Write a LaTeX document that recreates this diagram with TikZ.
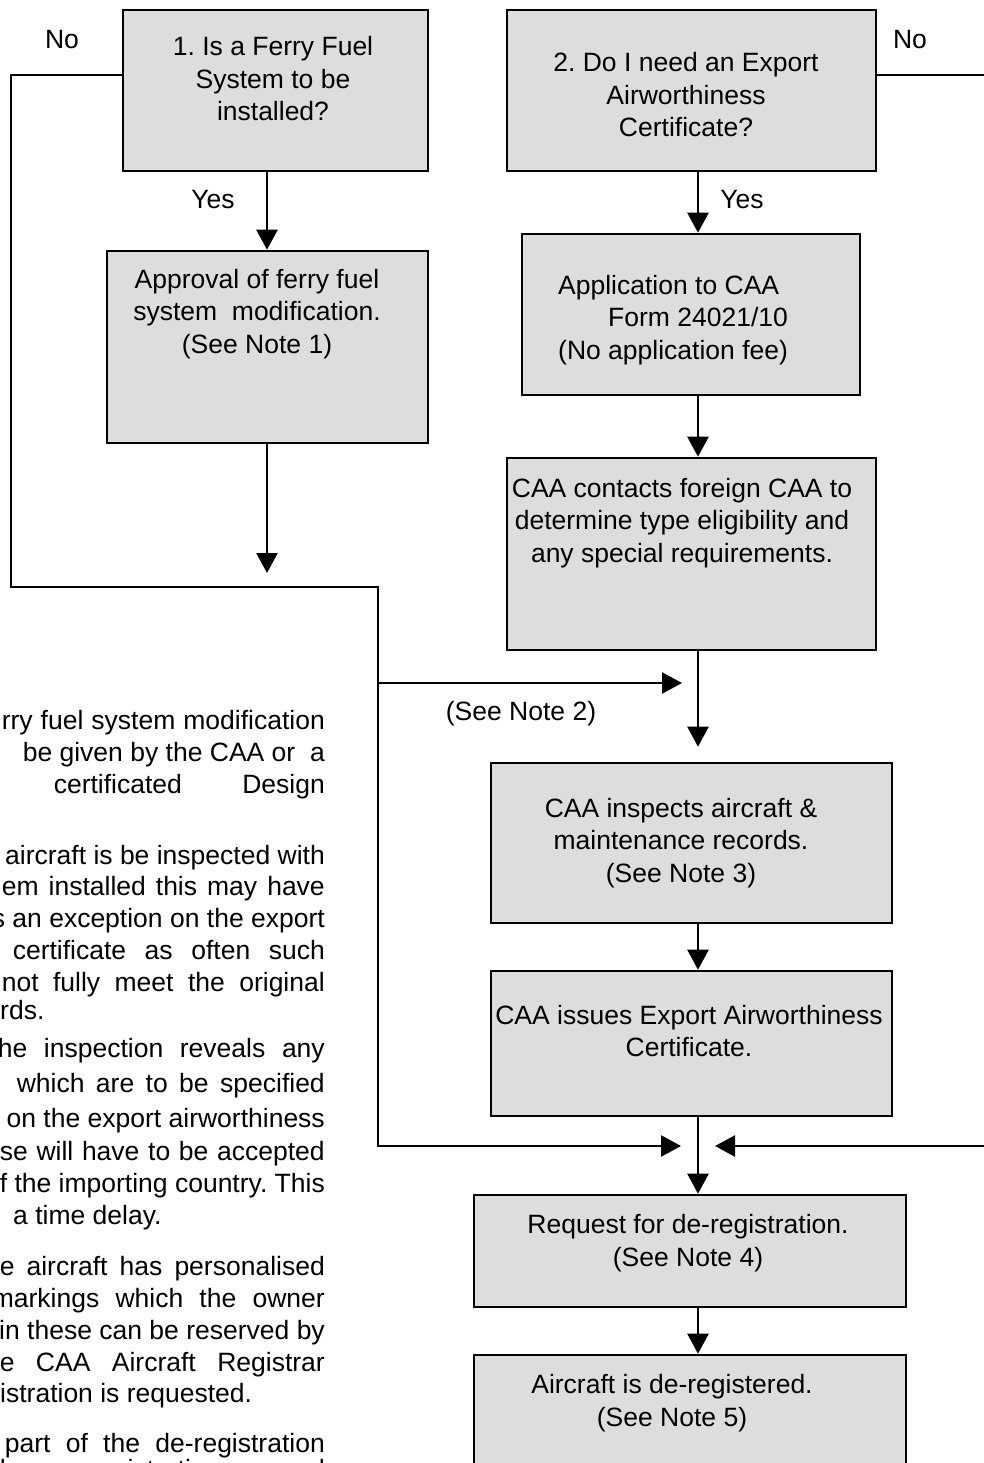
\documentclass[tikz,border=0pt]{standalone}
\usepackage{fontspec}
\setmainfont{Liberation Sans}
\usetikzlibrary{positioning,arrows.meta}
\definecolor{boxgray}{HTML}{DDDDDD}
\frenchspacing

\begin{document}
\begin{tikzpicture}[x=1pt, y=-1pt,
    font=\fontsize{26.5}{32.5}\selectfont,
    box/.style={draw, line width=2.6pt, fill=boxgray},
    txt/.style={inner sep=0pt, align=center},
    note/.style={inner sep=0pt, text height=0.72em, text depth=0.2em},
    line/.style={line width=2.6pt},
    arr/.style={line width=2.6pt, -{Triangle[width=21pt, length=20pt]}}]
    \useasboundingbox (0,0) rectangle (984,1463);

    % Boxes
    \node[box, minimum width=305pt, minimum height=161pt] (q1) at (275.5,90.5) {};
    \node[box, minimum width=369pt, minimum height=161pt] (q2) at (691.5,90.5) {};
    \node[box, minimum width=321pt, minimum height=192pt] (a1) at (267.5,347) {};
    \node[box, minimum width=338pt, minimum height=161pt] (app) at (691,314.5) {};
    \node[box, minimum width=369pt, minimum height=192pt] (con) at (691.5,554) {};
    \node[box, minimum width=401pt, minimum height=160pt] (insp) at (691.5,843) {};
    \node[box, minimum width=401pt, minimum height=145pt] (iss) at (691.5,1043.5) {};
    \node[box, minimum width=432pt, minimum height=112pt] (req) at (690,1251) {};
    \node[box, minimum width=432pt, minimum height=160pt] (dreg) at (690,1435) {};

    % Box texts
    \node[txt] (q1t) at (273,79) {1. Is a Ferry Fuel\\System to be\\installed?};
    \node[txt] (q2t) at (686,95) {2. Do I need an Export\\Airworthiness\\Certificate?};
    \node[txt] (a1t) at (257,314) {Approval of ferry fuel\\system~ modification.\\(See Note 1)};
    \node[txt, align=left, anchor=west] (appt) at (558,320) {Application to CAA\\\hspace*{50pt}Form 24021/10\\(No application fee)};
    \node[txt] (cont) at (682,523) {CAA contacts foreign CAA to\\determine type eligibility and\\any special requirements.};
    \node[txt] (inspt) at (681,843) {CAA inspects aircraft \&\\maintenance records.\\(See Note 3)};
    \node[txt] (isst) at (689,1031) {CAA issues Export Airworthiness\\Certificate.};
    \node[txt] (reqt) at (688,1243) {Request for de-registration.\\(See Note 4)};
    \node[txt] (dregt) at (672,1403) {Aircraft is de-registered.\\(See Note 5)};

    % Labels
    \node[txt] (no1) at (62,40) {No};
    \node[txt] (no2) at (910,40) {No};
    \node[txt] (yes1) at (213,200) {Yes};
    \node[txt] (yes2) at (742,200) {Yes};
    \node[txt] (see2) at (521,714) {(See Note 2)};

    % Connectors
    \coordinate (lc) at (267,0);
    \coordinate (rc) at (698,0);
    \coordinate (nol) at (11,75);
    \coordinate (nor) at (990,75);
    \coordinate (bend) at (378,587);
    \coordinate (seetip) at (682,683);
    \coordinate (mlt) at (681,1146);
    \coordinate (mrt) at (715,1146);
    \coordinate (edge) at (990,1146);

    \draw[arr] (q1.south -| lc) -- (a1.north -| lc);
    \draw[arr, shorten >=14pt] (a1.south -| lc) -- (lc |- bend);
    \draw[arr] (q1.west |- nol) -- (nol) |- (bend) |- (mlt);
    \draw[arr] (bend |- seetip) -- (seetip);
    \draw[arr] (q2.south -| rc) -- (app.north -| rc);
    \draw[arr] (app.south -| rc) -- (con.north -| rc);
    \draw[arr, shorten >=15pt] (con.south -| rc) -- (insp.north -| rc);
    \draw[arr] (insp.south -| rc) -- (iss.north -| rc);
    \draw[arr] (iss.south -| rc) -- (req.north -| rc);
    \draw[arr] (req.south -| rc) -- (dreg.north -| rc);
    \draw[line] (q2.east |- nor) -- (nor);
    \draw[arr] (edge) -- (mrt);

    % Notes (cut at the left edge)
    \foreach \y/\w/\t [count=\i] in {
        727/323/{rry fuel system modification},
        759/285/{be given by the CAA or\ \ a},
        791/271/{certificated Design},
        862/309/{aircraft is be inspected with},
        893/323/{em installed this may have},
        925/330/{s an exception on the export},
        957/312/{certificate as often such},
        989/323/{not fully meet the original},
        1055/327/{he inspection reveals any},
        1090/308/{which are to be specified},
        1125/305/{on the export airworthiness},
        1158/325/{se will have to be accepted},
        1190/318/{f the importing country. This},
        1273/325/{e aircraft has personalised},
        1305/333/{markings which the owner},
        1337/325/{in these can be reserved by},
        1369/325/{e CAA Aircraft Registrar},
        1450/320/{part of the de-registration},
        1476/325/{he registration and}}
        \node[note, anchor=east] (note\i) at (325,\y)
            {\makebox[\w pt][s]{\hskip 0pt minus 1fil\t}};
    \node[note, anchor=west] (rds) at (0,1017) {rds.};
    \node[note, anchor=west] (delay) at (13,1222) {a time delay.};
    \node[note, anchor=west] (istr) at (0,1400) {istration is requested.};
\end{tikzpicture}
\end{document}
